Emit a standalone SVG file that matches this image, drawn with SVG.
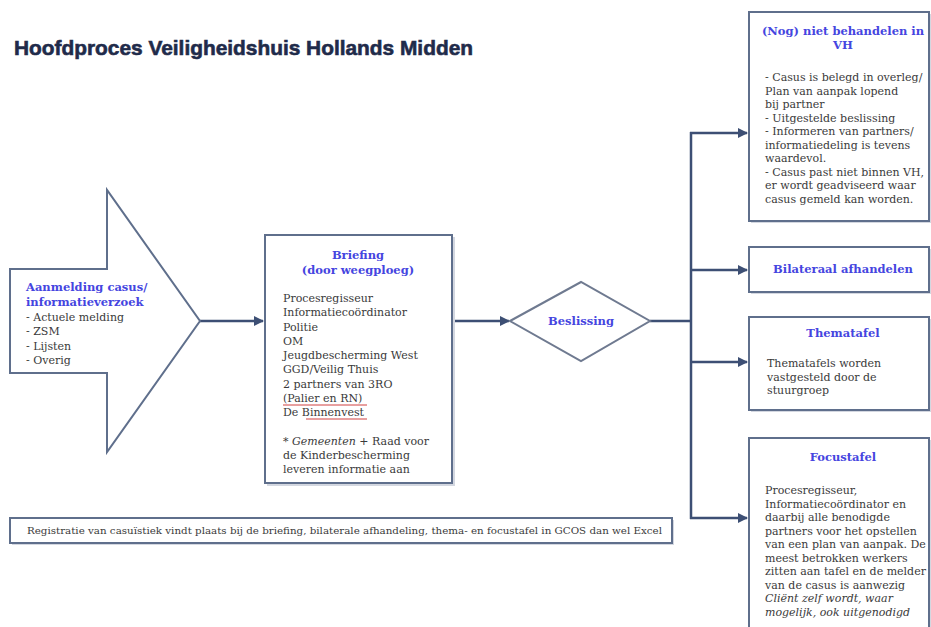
<svg xmlns="http://www.w3.org/2000/svg" width="931" height="627" viewBox="0 0 931 627">
<style>
.title{font-family:"Liberation Sans",Arial,sans-serif;font-weight:bold;font-size:21px;fill:#1f2b4a;stroke:#1f2b4a;stroke-width:0.6}
.box{fill:#ffffff;stroke:#5f6f8c;stroke-width:2}
.shadow{fill:#d3d7e0;stroke:none}
.head{font-family:"DejaVu Serif","Liberation Serif",serif;font-weight:bold;font-size:11.5px;fill:#4545e0}
.body{font-family:"DejaVu Serif","Liberation Serif",serif;font-size:11px;fill:#3a3a3a}
.small{font-family:"DejaVu Serif","Liberation Serif",serif;font-size:9px;fill:#3a3a3a}
.conn{fill:none;stroke:#3d4f74;stroke-width:2.5}
.mid{text-anchor:middle}
.spell{stroke:#d04040;stroke-width:1}
</style>
<defs>
<marker id="arr" viewBox="0 0 10 10" refX="9" refY="5" markerWidth="4.4" markerHeight="4" orient="auto" markerUnits="strokeWidth">
<path d="M0,0 L10,5 L0,10 z" fill="#3d4f74"/>
</marker>
</defs>
<rect width="931" height="627" fill="#ffffff"/>
<text class="title" x="14" y="55" textLength="459" lengthAdjust="spacingAndGlyphs">Hoofdproces Veiligheidshuis Hollands Midden</text>

<g id="connectors">
<line class="conn" x1="200" y1="321" x2="263" y2="321" marker-end="url(#arr)"/>
<line class="conn" x1="453" y1="321" x2="509" y2="321" marker-end="url(#arr)"/>
<polyline class="conn" points="650,321 691,321"/>
<line class="conn" x1="691" y1="132" x2="691" y2="519"/>
<line class="conn" x1="690" y1="133" x2="747" y2="133" marker-end="url(#arr)"/>
<line class="conn" x1="690" y1="270" x2="747" y2="270" marker-end="url(#arr)"/>
<line class="conn" x1="690" y1="362" x2="747" y2="362" marker-end="url(#arr)"/>
<line class="conn" x1="690" y1="518" x2="747" y2="518" marker-end="url(#arr)"/>
</g>

<g id="aanmelding">
<polygon points="10,269 107,269 107,190 200,321 107,452 107,373 10,373" fill="#ffffff" stroke="#5f6f8c" stroke-width="2"/>
<text class="head" x="26" y="291">Aanmelding casus/</text>
<text class="head" x="26" y="306">informatieverzoek</text>
<text class="body" x="26" y="321">- Actuele melding</text>
<text class="body" x="26" y="335">- ZSM</text>
<text class="body" x="26" y="350">- Lijsten</text>
<text class="body" x="26" y="364">- Overig</text>
</g>

<g id="briefing">
<rect class="shadow" x="267" y="237" width="188" height="249"/>
<rect class="box" x="265" y="235" width="187" height="248"/>
<text class="head mid" x="358" y="259">Briefing</text>
<text class="head mid" x="358" y="274">(door weegploeg)</text>
<text class="body" x="283" y="302">Procesregisseur</text>
<text class="body" x="283" y="316">Informatiecoördinator</text>
<text class="body" x="283" y="331">Politie</text>
<text class="body" x="283" y="345">OM</text>
<text class="body" x="283" y="359">Jeugdbescherming West</text>
<text class="body" x="283" y="373">GGD/Veilig Thuis</text>
<text class="body" x="283" y="388">2 partners van 3RO</text>
<text class="body" x="283" y="402">(Palier en RN)</text>
<line class="spell" x1="283" y1="405" x2="367" y2="405"/>
<text class="body" x="283" y="416">De Binnenvest</text>
<line class="spell" x1="306" y1="419" x2="367" y2="419"/>
<text class="body" x="283" y="445">* <tspan font-style="italic">Gemeenten</tspan> + Raad voor</text>
<text class="body" x="283" y="459">de Kinderbescherming</text>
<text class="body" x="283" y="473">leveren informatie aan</text>
</g>

<g id="beslissing">
<polygon points="510,321 581,282 650,321 581,361" fill="#ffffff" stroke="#6f7a90" stroke-width="2"/>
<text class="head mid" x="581" y="325" font-size="11px">Beslissing</text>
</g>

<g id="niet-behandelen">
<rect class="shadow" x="751" y="14" width="180" height="209"/>
<rect class="box" x="749" y="12" width="180" height="209"/>
<text class="head mid" x="843" y="35">(Nog) niet behandelen in</text>
<text class="head mid" x="843" y="48.5">VH</text>
<text class="body" x="765" y="81">- Casus is belegd in overleg/</text>
<text class="body" x="765" y="94.5">Plan van aanpak lopend</text>
<text class="body" x="765" y="108">bij partner</text>
<text class="body" x="765" y="121.5">- Uitgestelde beslissing</text>
<text class="body" x="765" y="135">- Informeren van partners/</text>
<text class="body" x="765" y="148.5">informatiedeling is tevens</text>
<text class="body" x="765" y="162">waardevol.</text>
<text class="body" x="765" y="175.5">- Casus past niet binnen VH,</text>
<text class="body" x="765" y="189">er wordt geadviseerd waar</text>
<text class="body" x="765" y="202.5">casus gemeld kan worden.</text>
</g>

<g id="bilateraal">
<rect class="shadow" x="751" y="249" width="180" height="45"/>
<rect class="box" x="749" y="247" width="180" height="45"/>
<text class="head mid" x="843" y="273">Bilateraal afhandelen</text>
</g>

<g id="thematafel">
<rect class="shadow" x="751" y="319" width="180" height="93"/>
<rect class="box" x="749" y="317" width="180" height="93"/>
<text class="head mid" x="843" y="337">Thematafel</text>
<text class="body" x="767" y="367">Thematafels worden</text>
<text class="body" x="767" y="381">vastgesteld door de</text>
<text class="body" x="767" y="394">stuurgroep</text>
</g>

<g id="focustafel">
<rect class="shadow" x="751" y="440" width="180" height="200"/>
<rect class="box" x="749" y="438" width="180" height="200"/>
<text class="head mid" x="843" y="461">Focustafel</text>
<text class="body" x="765" y="494">Procesregisseur,</text>
<text class="body" x="765" y="507.5">Informatiecoördinator en</text>
<text class="body" x="765" y="521">daarbij alle benodigde</text>
<text class="body" x="765" y="534.5">partners voor het opstellen</text>
<text class="body" x="765" y="548">van een plan van aanpak. De</text>
<text class="body" x="765" y="561.5">meest betrokken werkers</text>
<text class="body" x="765" y="575">zitten aan tafel en de melder</text>
<text class="body" x="765" y="588.5">van de casus is aanwezig</text>
<text class="body" x="765" y="602" font-style="italic">Cliënt zelf wordt, waar</text>
<text class="body" x="765" y="615.5" font-style="italic">mogelijk, ook uitgenodigd</text>
</g>

<g id="registratie">
<rect class="shadow" x="12" y="520" width="662" height="25"/>
<rect class="box" x="10" y="518" width="662" height="25" stroke-width="1.5"/>
<text class="small" x="27" y="534" textLength="635" lengthAdjust="spacingAndGlyphs">Registratie van casuïstiek vindt plaats bij de briefing, bilaterale afhandeling, thema- en focustafel in GCOS dan wel Excel</text>
</g>
</svg>
